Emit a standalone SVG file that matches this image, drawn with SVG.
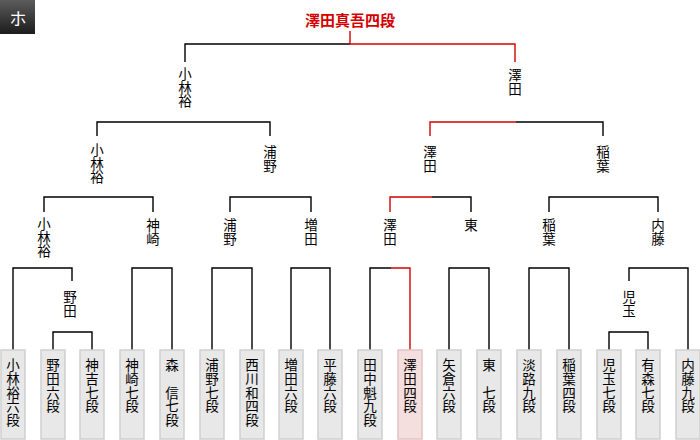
<svg xmlns="http://www.w3.org/2000/svg" width="700" height="440" viewBox="0 0 700 440">
<defs>
<linearGradient id="hg" x1="0" y1="0" x2="0" y2="1">
<stop offset="0" stop-color="#5c5c5c"/>
<stop offset="1" stop-color="#1c1c1c"/>
</linearGradient>
</defs>
<style>
text{font-family:"Noto Sans CJK JP","Noto Sans CJK SC",sans-serif;font-size:13.5px;fill:#000;text-anchor:middle}
.title{font-size:15px;font-weight:bold;fill:#d40000}
.hd{fill:#fff;font-size:17px}
.ln{fill:none;stroke:#000;stroke-width:1.4}
.rd{fill:none;stroke:#d40000;stroke-width:1.4}
.leaf rect{fill:#e8e8e8;stroke:#cfcfcf;stroke-width:1.5}
.leaf.win rect{fill:#f5dede;stroke:#e2c4c4}
</style>
<rect x="0" y="0" width="700" height="440" fill="#fff"/>
<g id="header">
<rect x="0" y="0" width="35" height="34" fill="url(#hg)"/>
<text class="hd" x="18" y="25">ホ</text>
</g>
<g id="title"><text class="title" x="350" y="26">澤田真吾四段</text></g>

<g id="connectors">
<path class="ln" d="M185,62V44H350"/>
<path class="rd" d="M350,31V44H515V62"/>
<path class="ln" d="M97,136V122H270V136"/>
<path class="rd" d="M430,136V122H516"/>
<path class="ln" d="M516,122H603V136"/>
<path class="ln" d="M44,212V197H153V212"/>
<path class="ln" d="M230,212V197H311V212"/>
<path class="rd" d="M390,212V197H432"/>
<path class="ln" d="M432,197H471V212"/>
<path class="ln" d="M549,212V197H658V212"/>
<path class="ln" d="M13,350V268H72V281"/>
<path class="ln" d="M53,350V332H92V350"/>
<path class="ln" d="M132,350V268H172V350"/>
<path class="ln" d="M212,350V268H252V350"/>
<path class="ln" d="M291,350V268H330V350"/>
<path class="ln" d="M370,350V268H391"/>
<path class="rd" d="M391,268H410V350"/>
<path class="ln" d="M449,350V268H489V350"/>
<path class="ln" d="M529,350V268H569V350"/>
<path class="ln" d="M629,281V268H688V350"/>
<path class="ln" d="M609,350V332H648V350"/>
</g>

<g id="n-l1-kobayashi"><text x="185" y="79"><tspan x="185">小</tspan><tspan x="185" dy="13.5">林</tspan><tspan x="185" dy="13.5">裕</tspan></text></g>
<g id="n-l1-sawada"><text x="515" y="80"><tspan x="515">澤</tspan><tspan x="515" dy="13.5">田</tspan></text></g>

<g id="n-l2-kobayashi"><text x="97" y="155"><tspan x="97">小</tspan><tspan x="97" dy="13.5">林</tspan><tspan x="97" dy="13.5">裕</tspan></text></g>
<g id="n-l2-urano"><text x="270" y="157"><tspan x="270">浦</tspan><tspan x="270" dy="13.5">野</tspan></text></g>
<g id="n-l2-sawada"><text x="430" y="157"><tspan x="430">澤</tspan><tspan x="430" dy="13.5">田</tspan></text></g>
<g id="n-l2-inaba"><text x="603" y="157"><tspan x="603">稲</tspan><tspan x="603" dy="13.5">葉</tspan></text></g>

<g id="n-l3-kobayashi"><text x="44" y="229"><tspan x="44">小</tspan><tspan x="44" dy="13.5">林</tspan><tspan x="44" dy="13.5">裕</tspan></text></g>
<g id="n-l3-kanzaki"><text x="153" y="230"><tspan x="153">神</tspan><tspan x="153" dy="13.5">崎</tspan></text></g>
<g id="n-l3-urano"><text x="230" y="230"><tspan x="230">浦</tspan><tspan x="230" dy="13.5">野</tspan></text></g>
<g id="n-l3-masuda"><text x="311" y="230"><tspan x="311">増</tspan><tspan x="311" dy="13.5">田</tspan></text></g>
<g id="n-l3-sawada"><text x="390" y="230"><tspan x="390">澤</tspan><tspan x="390" dy="13.5">田</tspan></text></g>
<g id="n-l3-higashi"><text x="471" y="230">東</text></g>
<g id="n-l3-inaba"><text x="549" y="230"><tspan x="549">稲</tspan><tspan x="549" dy="13.5">葉</tspan></text></g>
<g id="n-l3-naito"><text x="658" y="230"><tspan x="658">内</tspan><tspan x="658" dy="13.5">藤</tspan></text></g>

<g id="n-l4-noda"><text x="70" y="302"><tspan x="70">野</tspan><tspan x="70" dy="13.5">田</tspan></text></g>
<g id="n-l4-kodama"><text x="629" y="302"><tspan x="629">児</tspan><tspan x="629" dy="13.5">玉</tspan></text></g>

<g id="leaf-01" class="leaf"><rect x="1" y="350" width="24" height="89"/><text x="13" y="370"><tspan x="13">小</tspan><tspan x="13" dy="13.8">林</tspan><tspan x="13" dy="13.8">裕</tspan><tspan x="13" dy="13.8">六</tspan><tspan x="13" dy="13.8">段</tspan></text></g>
<g id="leaf-02" class="leaf"><rect x="41" y="350" width="24" height="89"/><text x="53" y="370"><tspan x="53">野</tspan><tspan x="53" dy="13.8">田</tspan><tspan x="53" dy="13.8">六</tspan><tspan x="53" dy="13.8">段</tspan></text></g>
<g id="leaf-03" class="leaf"><rect x="80" y="350" width="24" height="89"/><text x="92" y="370"><tspan x="92">神</tspan><tspan x="92" dy="13.8">吉</tspan><tspan x="92" dy="13.8">七</tspan><tspan x="92" dy="13.8">段</tspan></text></g>
<g id="leaf-04" class="leaf"><rect x="120" y="350" width="24" height="89"/><text x="132" y="370"><tspan x="132">神</tspan><tspan x="132" dy="13.8">崎</tspan><tspan x="132" dy="13.8">七</tspan><tspan x="132" dy="13.8">段</tspan></text></g>
<g id="leaf-05" class="leaf"><rect x="160" y="350" width="24" height="89"/><text x="172" y="370"><tspan x="172">森</tspan><tspan x="172" dy="27.6">信</tspan><tspan x="172" dy="13.8">七</tspan><tspan x="172" dy="13.8">段</tspan></text></g>
<g id="leaf-06" class="leaf"><rect x="200" y="350" width="24" height="89"/><text x="212" y="370"><tspan x="212">浦</tspan><tspan x="212" dy="13.8">野</tspan><tspan x="212" dy="13.8">七</tspan><tspan x="212" dy="13.8">段</tspan></text></g>
<g id="leaf-07" class="leaf"><rect x="240" y="350" width="24" height="89"/><text x="252" y="370"><tspan x="252">西</tspan><tspan x="252" dy="13.8">川</tspan><tspan x="252" dy="13.8">和</tspan><tspan x="252" dy="13.8">四</tspan><tspan x="252" dy="13.8">段</tspan></text></g>
<g id="leaf-08" class="leaf"><rect x="279" y="350" width="24" height="89"/><text x="291" y="370"><tspan x="291">増</tspan><tspan x="291" dy="13.8">田</tspan><tspan x="291" dy="13.8">六</tspan><tspan x="291" dy="13.8">段</tspan></text></g>
<g id="leaf-09" class="leaf"><rect x="318" y="350" width="24" height="89"/><text x="330" y="370"><tspan x="330">平</tspan><tspan x="330" dy="13.8">藤</tspan><tspan x="330" dy="13.8">六</tspan><tspan x="330" dy="13.8">段</tspan></text></g>
<g id="leaf-10" class="leaf"><rect x="358" y="350" width="24" height="89"/><text x="370" y="370"><tspan x="370">田</tspan><tspan x="370" dy="13.8">中</tspan><tspan x="370" dy="13.8">魁</tspan><tspan x="370" dy="13.8">九</tspan><tspan x="370" dy="13.8">段</tspan></text></g>
<g id="leaf-11" class="leaf win"><rect x="398" y="350" width="24" height="89"/><text x="410" y="370"><tspan x="410">澤</tspan><tspan x="410" dy="13.8">田</tspan><tspan x="410" dy="13.8">四</tspan><tspan x="410" dy="13.8">段</tspan></text></g>
<g id="leaf-12" class="leaf"><rect x="437" y="350" width="24" height="89"/><text x="449" y="370"><tspan x="449">矢</tspan><tspan x="449" dy="13.8">倉</tspan><tspan x="449" dy="13.8">六</tspan><tspan x="449" dy="13.8">段</tspan></text></g>
<g id="leaf-13" class="leaf"><rect x="477" y="350" width="24" height="89"/><text x="489" y="370"><tspan x="489">東</tspan><tspan x="489" dy="27.6">七</tspan><tspan x="489" dy="13.8">段</tspan></text></g>
<g id="leaf-14" class="leaf"><rect x="517" y="350" width="24" height="89"/><text x="529" y="370"><tspan x="529">淡</tspan><tspan x="529" dy="13.8">路</tspan><tspan x="529" dy="13.8">九</tspan><tspan x="529" dy="13.8">段</tspan></text></g>
<g id="leaf-15" class="leaf"><rect x="557" y="350" width="24" height="89"/><text x="569" y="370"><tspan x="569">稲</tspan><tspan x="569" dy="13.8">葉</tspan><tspan x="569" dy="13.8">四</tspan><tspan x="569" dy="13.8">段</tspan></text></g>
<g id="leaf-16" class="leaf"><rect x="597" y="350" width="24" height="89"/><text x="609" y="370"><tspan x="609">児</tspan><tspan x="609" dy="13.8">玉</tspan><tspan x="609" dy="13.8">七</tspan><tspan x="609" dy="13.8">段</tspan></text></g>
<g id="leaf-17" class="leaf"><rect x="636" y="350" width="24" height="89"/><text x="648" y="370"><tspan x="648">有</tspan><tspan x="648" dy="13.8">森</tspan><tspan x="648" dy="13.8">七</tspan><tspan x="648" dy="13.8">段</tspan></text></g>
<g id="leaf-18" class="leaf"><rect x="676" y="350" width="24" height="89"/><text x="688" y="370"><tspan x="688">内</tspan><tspan x="688" dy="13.8">藤</tspan><tspan x="688" dy="13.8">九</tspan><tspan x="688" dy="13.8">段</tspan></text></g>
</svg>
